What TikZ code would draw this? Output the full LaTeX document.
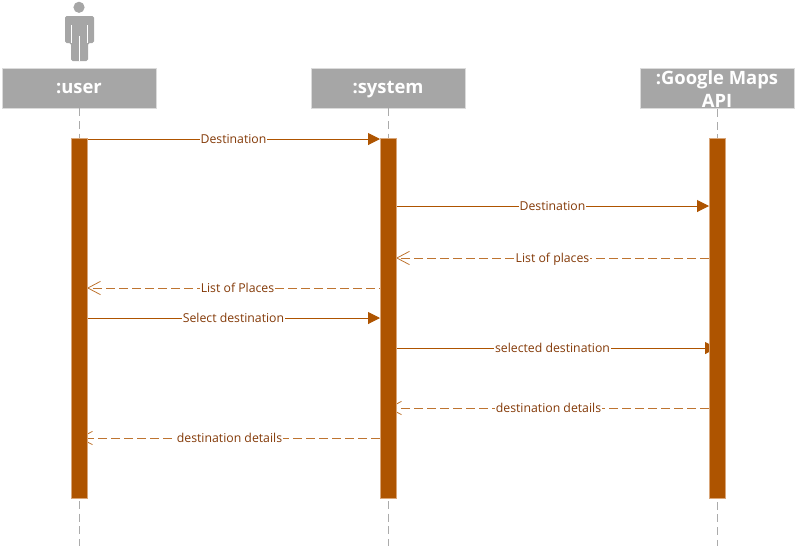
\documentclass[tikz,border=0pt]{standalone}
\usepackage{fontspec}
\setmainfont{Open Sans}
\usetikzlibrary{arrows.meta}
\definecolor{bar}{HTML}{AE5400}
\definecolor{barline}{HTML}{D9A679}
\definecolor{msgsoft}{HTML}{BE7430}
\definecolor{labeltxt}{HTML}{843A08}
\definecolor{boxgray}{HTML}{A6A6A6}
\definecolor{lifegray}{HTML}{ABABAB}
\tikzset{
 objbox/.style={draw=boxgray!40,line width=.6pt,fill=boxgray,text=white,font=\bfseries\fontsize{13.8}{17}\selectfont,minimum width=115.5pt,minimum height=30pt,inner sep=0pt,align=center},
 oneline/.style={text height=10.5pt,text depth=2.5pt},
 activation/.style={draw=barline,line width=.5pt,fill=bar,minimum width=12pt,minimum height=269.5pt,inner sep=0pt},
 lifeline/.style={draw=lifegray,line width=.75pt,dash pattern=on 6pt off 3.5pt},
 msglabel/.style={midway,fill=white,text=labeltxt,font=\fontsize{9.2}{11}\selectfont,inner xsep=.6pt,inner ysep=0pt,text height=8.5pt,text depth=2pt},
 callmsg/.style={draw=bar,line width=.75pt,-{Triangle[length=9pt,width=9pt,fill=bar]}},
 replymsg/.style={draw=msgsoft,line width=.75pt,dash pattern=on 6.75pt off 3pt,-{Straight Barb[length=9.5pt,width=10pt,line width=.6pt]}},
 actorfill/.style={fill=boxgray,draw=none},
 actorgap/.style={draw=white,line width=.5pt}
}
\begin{document}
\begin{tikzpicture}[x=.75pt,y=-.75pt]
\useasboundingbox (0,0) rectangle (798,547);
% actor
\fill[actorfill] (79,7.3) circle (5.6);
\fill[actorfill,rounded corners=1.2pt] (65,43) -- (65,16) -- (94,16) -- (94,43) -- (88,43) -- (88,61) -- (71,61) -- (71,43) -- cycle;
\draw[actorgap] (71.5,25) -- (71.5,43);
\draw[actorgap] (87.5,25) -- (87.5,43);
\draw[actorgap] (79.5,36) -- (79.5,61);
% heads
\node[objbox,oneline] (user) at (79,88) {:user};
\node[objbox,oneline] (system) at (388,88) {:system};
\node[objbox] (maps) at (717,88.7) {:Google Maps\\API};
% lifeline ends
\coordinate (userEnd) at (79,546);
\coordinate (systemEnd) at (388,546);
\coordinate (mapsEnd) at (717,546);
\draw[lifeline] (user.south) -- (userEnd);
\draw[lifeline] (system.south) -- (systemEnd);
\draw[lifeline] (maps.south) -- (mapsEnd);
% message ends
\foreach \n/\x/\y in {a1/87/139,a2/380/139,b1/396/206,b2/709/206,c1/709/258,c2/396/258,d1/388/288,d2/87/288,e1/87/318,e2/380/318,f1/388/348,f2/717/348,g1/709/408,g2/388/408,h1/380/438,h2/79/438}
  \coordinate (\n) at (\x,\y);
% messages, behind the activation bars
\draw[callmsg] (a1) -- node[msglabel] {Destination} (a2);
\draw[callmsg] (b1) -- node[msglabel] {Destination} (b2);
\draw[replymsg] (c1) -- node[msglabel] {List of places} (c2);
\draw[replymsg] (d1) -- node[msglabel] {List of Places} (d2);
\draw[callmsg] (e1) -- node[msglabel] {Select destination} (e2);
\draw[callmsg] (f1) -- node[msglabel] {selected destination} (f2);
\draw[replymsg] (g1) -- node[msglabel] {destination details} (g2);
\draw[replymsg] (h1) -- node[msglabel] {destination details} (h2);
% activations
\node[activation] (barU) at (79,318.4) {};
\node[activation] (barS) at (388,318.4) {};
\node[activation] (barM) at (717,318.4) {};
\end{tikzpicture}
\end{document}
